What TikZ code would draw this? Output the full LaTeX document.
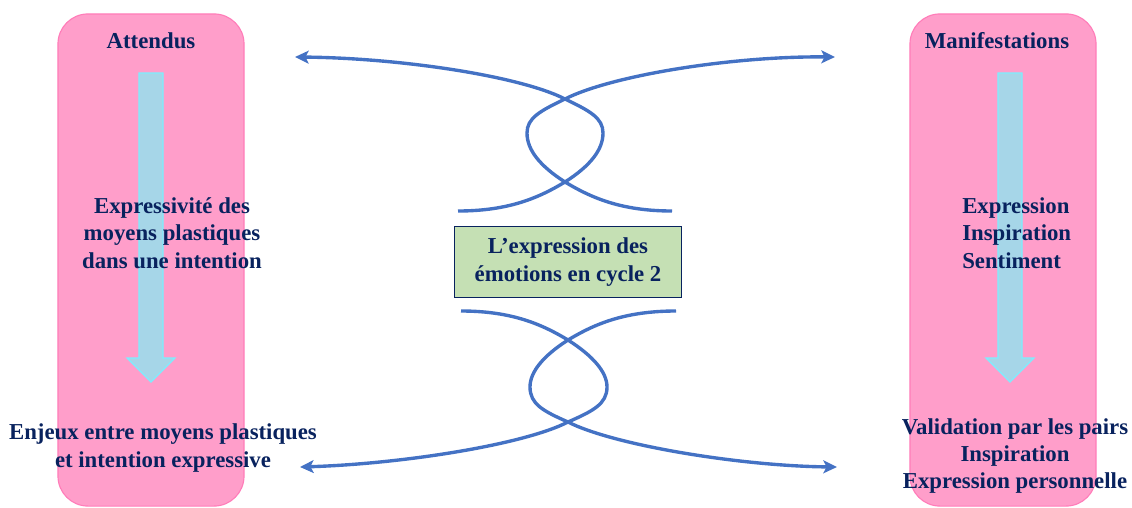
\documentclass[tikz,border=0pt]{standalone}
\usepackage{fontspec}
\setmainfont{Liberation Serif}
\usetikzlibrary{arrows.meta, positioning}
\definecolor{cPink}{RGB}{255,158,202}
\definecolor{cPinkLine}{RGB}{255,125,185}
\definecolor{cSky}{RGB}{166,214,232}
\definecolor{cSkyLine}{RGB}{125,238,255}
\definecolor{cGreenBox}{RGB}{197,224,180}
\definecolor{cNavy}{RGB}{8,34,94}
\definecolor{cCurve}{RGB}{68,114,196}
\tikzset{
	pinkbox/.style  ={rectangle, rounded corners=0.75cm, minimum width=4.65cm, minimum height=12.3cm, draw=cPinkLine, line width=0.8pt, fill=cPink},
	skyarrow/.style ={draw=cSkyLine, fill=cSky, line width=0.8pt},
	txt/.style      ={font=\fontsize{16.2}{19.5}\selectfont\bfseries, text=cNavy, align=center, inner sep=0pt},
	themebox/.style ={rectangle, draw=cNavy, line width=0.8pt, fill=cGreenBox, minimum width=5.675cm, minimum height=1.775cm, align=center, inner sep=0pt, font=\fontsize{16.2}{19.5}\selectfont\bfseries, text=cNavy},
	loopline/.style ={draw=cCurve, line width=2.4pt},
	looparrow/.style={loopline, -{Stealth[length=3.4mm, width=3.2mm, inset=0.8mm]}},
}

\begin{document}
\begin{tikzpicture}[x=0.025cm, y=-0.025cm]
	\useasboundingbox (0,0) rectangle (1132,507);
	% side columns
	\node[pinkbox] (attBox) at (151,260) {};
	\node[pinkbox] (manBox) at (1003,260) {};
	% downward arrows
	\filldraw[skyarrow] (139,73) -- (163,73) -- (163,358) -- (175,358) -- (151,382) -- (127,358) -- (139,358) -- cycle;
	\filldraw[skyarrow] (998,73) -- (1022,73) -- (1022,358) -- (1034,358) -- (1010,382) -- (986,358) -- (998,358) -- cycle;
	% texts of the columns
	\node[txt] (attTitle) at (151,41) {Attendus};
	\node[txt] (manTitle) at (997,41) {Manifestations};
	\node[txt] (attTop) at (172,233) {Expressivité des\\moyens plastiques\\dans une intention};
	\node[txt, align=left, anchor=west] (manTop) at (962,233) {Expression\\Inspiration\\Sentiment};
	\node[txt] (attBot) at (163,448) {Enjeux entre moyens plastiques\\et intention expressive};
	\node[txt] (manBot) at (1015,456) {Validation par les pairs\\Inspiration\\Expression personnelle};
	% theme
	\node[themebox] (theme) at (568,262) {L’expression des\\émotions en cycle 2};
	% upper knot
	\coordinate (ulEnd) at (295,57);
	\coordinate (urEnd) at (835,57);
	\coordinate (uCrossTop) at (565,99);
	\coordinate (uCrossBot) at (565,182);
	\coordinate (uLoopR) at (603,133);
	\coordinate (uLoopL) at (527,133);
	\coordinate (uFootL) at (458,211);
	\coordinate (uFootR) at (672,211);
	\draw[looparrow] (uFootL) .. controls (510,211) and (540,197) .. (uCrossBot) .. controls (590,166) and (603,150) .. (uLoopR) .. controls (603,118) and (590,111) .. (uCrossTop) .. controls (520,76) and (400,58) .. (ulEnd);
	\draw[looparrow] (uFootR) .. controls (620,211) and (590,197) .. (uCrossBot) .. controls (540,166) and (527,150) .. (uLoopL) .. controls (527,118) and (540,111) .. (uCrossTop) .. controls (610,76) and (730,56) .. (urEnd);
	% lower knot
	\coordinate (llEnd) at (300,467);
	\coordinate (lrEnd) at (837,467);
	\coordinate (lCrossTop) at (568,340);
	\coordinate (lCrossBot) at (568,422);
	\coordinate (lLoopR) at (607,387);
	\coordinate (lLoopL) at (530,387);
	\coordinate (lFootL) at (461,311);
	\coordinate (lFootR) at (676,311);
	\draw[looparrow] (lFootL) .. controls (513,311) and (543,325) .. (lCrossTop) .. controls (593,356) and (607,372) .. (lLoopR) .. controls (607,404) and (593,411) .. (lCrossBot) .. controls (523,445) and (400,464) .. (llEnd);
	\draw[looparrow] (lFootR) .. controls (623,311) and (593,325) .. (lCrossTop) .. controls (543,356) and (530,372) .. (lLoopL) .. controls (530,404) and (543,411) .. (lCrossBot) .. controls (613,445) and (740,466) .. (lrEnd);
\end{tikzpicture}
\end{document}
